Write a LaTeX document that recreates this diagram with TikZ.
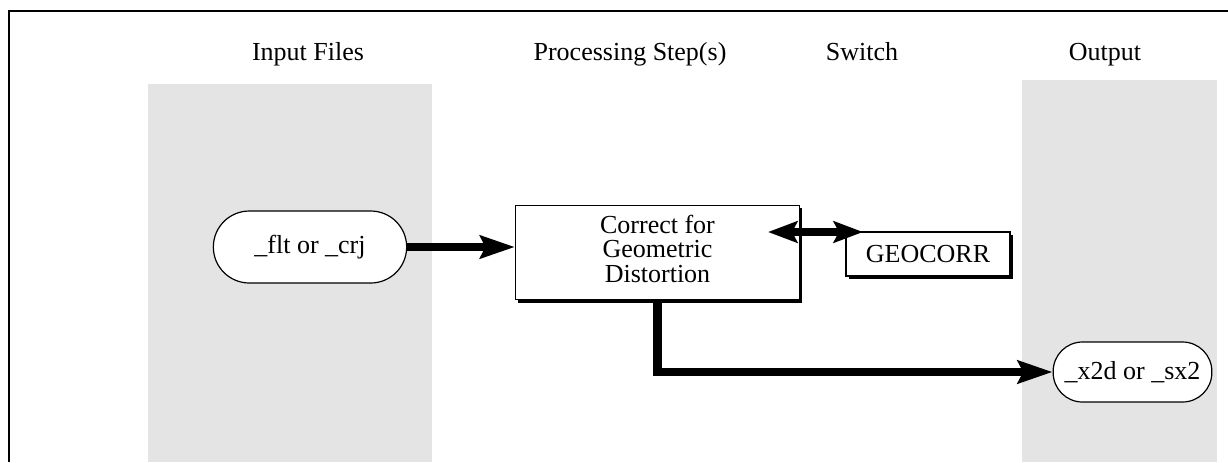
\documentclass[tikz,border=0pt]{standalone}
\usepackage{fontspec}
\setmainfont{Liberation Serif}
\usetikzlibrary{arrows.meta,shadows}
\definecolor{colgray}{HTML}{E4E4E4}
\begin{document}
\begin{tikzpicture}[x=0.75pt,y=-0.75pt,
  every node/.style={font=\fontsize{19.5}{18.5}\selectfont},
  header/.style={inner sep=0pt, anchor=base},
  pill/.style={draw, line width=0.9pt, fill=white, rounded corners=#1, inner sep=0pt, align=center},
  shadowbox/.style={draw, line width=0.9pt, fill=white, inner sep=0pt, align=center,
     drop shadow={shadow xshift=2.2pt, shadow yshift=-2.2pt, opacity=1, fill=black}},
  bigarrow/.style={line width=6.5pt, -{Stealth[length=26pt,width=17pt,inset=4pt]}},
  dblarrow/.style={line width=6pt, {Stealth[length=22pt,width=16pt,inset=4pt]}-{Stealth[length=22pt,width=16pt,inset=4pt]}}
]
\useasboundingbox (0,0) rectangle (1228,462);
% gray columns
\fill[colgray] (148,84) rectangle (432,462);
\fill[colgray] (1022,80) rectangle (1217,462);
% frame
\draw[line width=1.6pt] (9,462) -- (9,11) -- (1228,11);
% headers
\node[header] (h1) at (308,60) {Input Files};
\node[header] (h2) at (630,60) {Processing Step(s)};
\node[header] (h3) at (862,60) {Switch};
\node[header] (h4) at (1105,60) {Output};
% nodes
\node[pill=27pt, minimum width=145pt, minimum height=54pt] (in) at (310,247) {\_flt or \_crj};
\node[shadowbox, minimum width=213pt, minimum height=71pt] (proc) at (657.5,252.5) {\raisebox{3pt}{\begin{tabular}{@{}c@{}}Correct for\\Geometric\\Distortion\end{tabular}}};
\node[shadowbox, minimum width=123pt, minimum height=33pt] (geo) at (928,254) {GEOCORR};
\node[pill=22pt, minimum width=119pt, minimum height=45pt] (out) at (1132.5,372) {\_x2d or \_sx2};
% connectors
\draw[bigarrow] (in.east) -- (in.east -| proc.west);
\coordinate (dl) at (768,232);
\coordinate (dr) at (863,232);
\draw[dblarrow] (dl) -- (dr);
\draw[bigarrow] (proc.south) |- (out.west);
\end{tikzpicture}
\end{document}
